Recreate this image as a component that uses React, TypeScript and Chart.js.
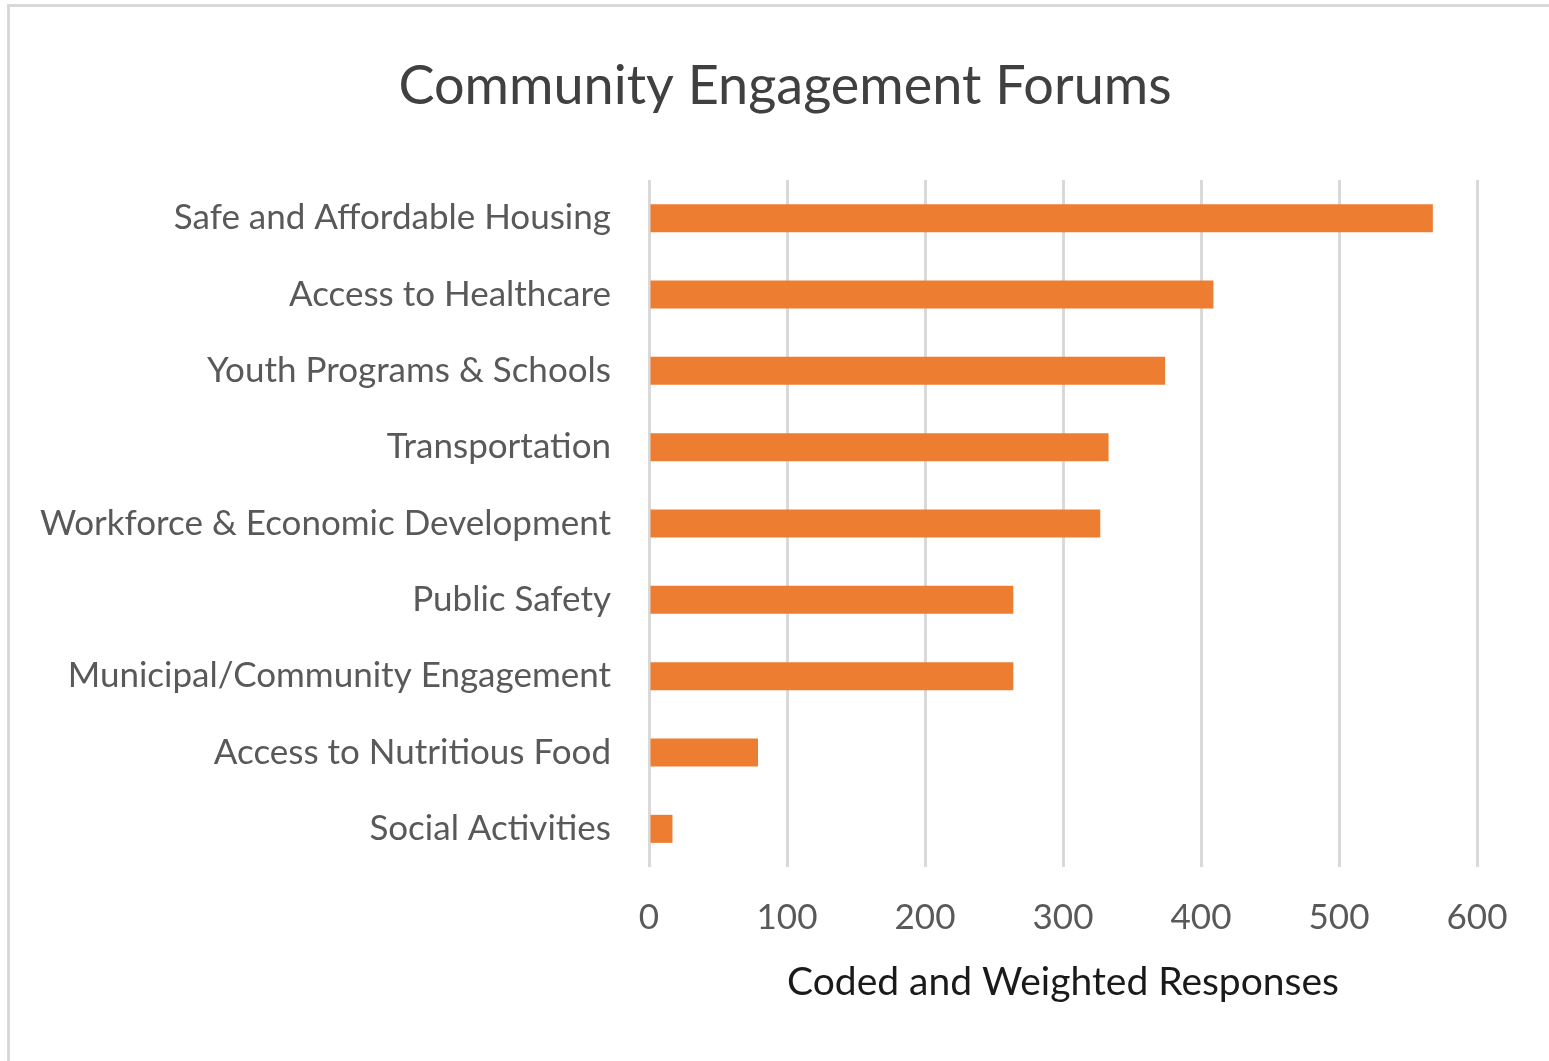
import React, { useEffect, useRef } from "react";
import { Chart, registerables } from "chart.js";

Chart.register(...registerables);

const categories = [
  "Safe and Affordable Housing",
  "Access to Healthcare",
  "Youth Programs & Schools",
  "Transportation",
  "Workforce & Economic Development",
  "Public Safety",
  "Municipal/Community Engagement",
  "Access to Nutritious Food",
  "Social Activities",
];
const responses = [568, 409, 374, 333, 327, 264, 264, 79, 17];
const xTicks = [0, 100, 200, 300, 400, 500, 600];

const FONT = "Lato, 'Open Sans', sans-serif";

const framePlugin = {
  id: "frame",
  afterLayout(chart: any) {
    // let the category labels use the full width to the left of the plot
    if (chart.scales.y) chart.scales.y.left = 0;
  },
  afterDraw(chart: any) {
    const ctx = chart.ctx;
    ctx.save();
    ctx.strokeStyle = "#d9d9d9";
    ctx.lineWidth = 3;
    ctx.beginPath();
    ctx.moveTo(8.5, 1061);
    ctx.lineTo(8.5, 5.5);
    ctx.lineTo(1549, 5.5);
    ctx.stroke();
    ctx.restore();
  },
};

export default function App() {
  const ref = useRef<HTMLCanvasElement>(null);
  useEffect(() => {
    if (!ref.current) return;
    const chart = new Chart(ref.current, {
      type: "bar",
      data: {
        labels: categories,
        datasets: [
          {
            label: "Coded and Weighted Responses",
            data: responses,
            backgroundColor: "#ED7D31",
            categoryPercentage: 1,
            barPercentage: 0.367,
          },
        ],
      },
      options: {
        indexAxis: "y",
        responsive: false,
        animation: false,
        layout: { padding: { left: 93, right: 72, top: 0, bottom: 0 } },
        plugins: {
          legend: { display: false },
          tooltip: { enabled: false },
          title: {
            display: true,
            text: "Community Engagement Forums",
            color: "#404040",
            font: { family: FONT, size: 54, weight: "normal" },
            padding: { top: 54.6, bottom: 60.6 },
          },
        },
        scales: {
          x: {
            min: 0,
            max: 600,
            afterBuildTicks: (s: any) => {
              s.ticks = xTicks.map((v) => ({ value: v }));
            },
            afterFit: (s: any) => {
              s.height = 194;
            },
            grid: { color: "#d9d9d9", lineWidth: 3, drawTicks: false },
            border: { display: false },
            ticks: {
              color: "#595959",
              font: { family: FONT, size: 35 },
              padding: 30,
              maxRotation: 0,
            },
            title: {
              display: true,
              text: "Coded and Weighted Responses",
              color: "#1a1a1a",
              font: { family: FONT, size: 39 },
              padding: { top: 0, bottom: 55.6 },
            },
          },
          y: {
            afterFit: (s: any) => {
              s.width = 556;
            },
            grid: { display: false, drawTicks: false },
            border: { display: false },
            ticks: {
              color: "#595959",
              font: { family: FONT, size: 35 },
              padding: 38,
            },
          },
        },
      },
      plugins: [framePlugin],
    });
    return () => chart.destroy();
  }, []);
  return (
    <canvas
      ref={ref}
      width={1549}
      height={1061}
      style={{ position: "absolute", left: 0, top: 0, display: "block" }}
    />
  );
}
